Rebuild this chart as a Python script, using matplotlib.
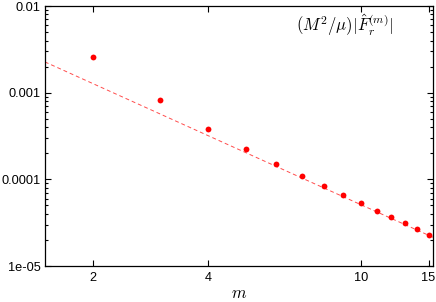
import numpy as np
import matplotlib
matplotlib.use('Agg')
import matplotlib.pyplot as plt
from matplotlib.ticker import FixedLocator, FixedFormatter, LogLocator, NullFormatter

plt.rcParams['font.family'] = 'Liberation Sans'
plt.rcParams['mathtext.fontset'] = 'cm'

# data
m_vals = [2, 3, 4, 5, 6, 7, 8, 9, 10, 11, 12, 13, 14, 15]
F_vals = [2.58e-3, 8.3e-4, 3.85e-4, 2.26e-4, 1.52e-4, 1.095e-4, 8.3e-5,
          6.55e-5, 5.3e-5, 4.32e-5, 3.65e-5, 3.11e-5, 2.65e-5, 2.3e-5]

# power-law fit shown as dashed line: A * m^p
fit_A = 5.1e-3
fit_p = -2.0

x_ticks = [2, 4, 10, 15]
y_ticks = [1e-5, 1e-4, 1e-3, 1e-2]
y_labels = ['1e-05', '0.0001', '0.001', '0.01']

fig = plt.figure(figsize=(4.36, 3.02), dpi=100)
ax = fig.add_axes([0.103, 0.119, 0.890, 0.861])

xx = np.geomspace(1.5, 15.4, 200)
ax.plot(xx, fit_A * xx ** fit_p, color='red', linestyle=(0, (4, 3)), linewidth=0.7, alpha=0.7)
ax.plot(m_vals, F_vals, 'o', color='red', markersize=4.2, markeredgewidth=0)

ax.set_xscale('log')
ax.set_yscale('log')
ax.set_xlim(1.5, 15.4)
ax.set_ylim(1e-5, 1e-2)

ax.xaxis.set_major_locator(FixedLocator(x_ticks))
ax.xaxis.set_major_formatter(FixedFormatter([str(t) for t in x_ticks]))
ax.xaxis.set_minor_locator(FixedLocator([]))
ax.yaxis.set_major_locator(FixedLocator(y_ticks))
ax.yaxis.set_major_formatter(FixedFormatter(y_labels))
ax.yaxis.set_minor_locator(LogLocator(base=10, subs=np.arange(2, 10)))
ax.yaxis.set_minor_formatter(NullFormatter())

ax.tick_params(which='both', direction='in', top=True, right=True, labelsize=9.2, width=0.8)
ax.tick_params(which='major', length=4.5, pad=3)
ax.tick_params(which='minor', length=2.5)
ax.tick_params(axis='x', which='major', pad=4)
for s in ax.spines.values():
    s.set_linewidth(0.9)

ax.set_xlabel('$m$', fontsize=12, labelpad=2)
ax.text(0.897, 0.927, r'$(M^2/\mu)|\hat{F}_r^{(m)}|$', transform=ax.transAxes,
        ha='right', va='center', fontsize=12)

fig.savefig('out.png', dpi=100)
